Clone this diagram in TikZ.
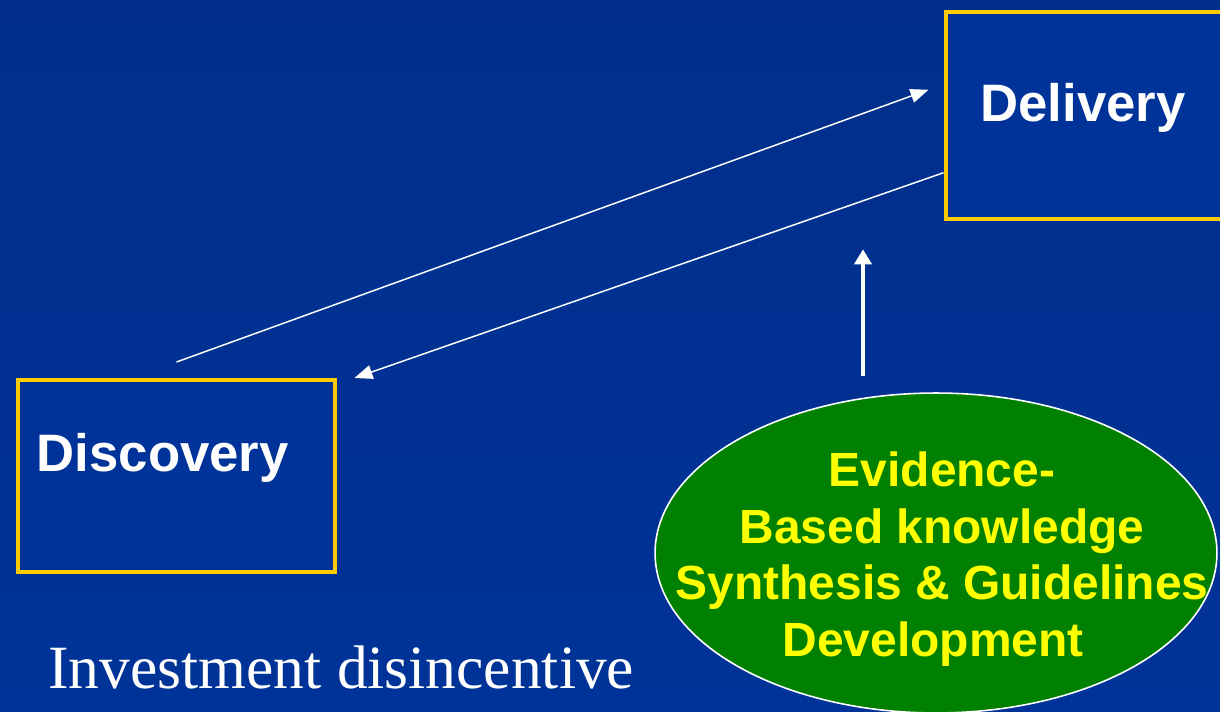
\documentclass[tikz,border=0pt]{standalone}
\usepackage{fontspec}
\setmainfont{Liberation Sans}
\newfontfamily\serifface{Liberation Serif}
\usetikzlibrary{shapes.geometric,arrows.meta,positioning}
\definecolor{slideblue}{RGB}{0,51,153}
\definecolor{slidetop}{RGB}{0,46,138}
\definecolor{boxgold}{RGB}{255,204,0}
\definecolor{ebkgreen}{RGB}{0,128,0}
\definecolor{ebkyellow}{RGB}{255,255,0}
\tikzset{
  stagebox/.style={draw=boxgold, line width=2.3pt, fill=slideblue, inner sep=0pt},
  stagelabel/.style={text=white, font=\fontsize{30}{36}\selectfont\bfseries, inner sep=0pt},
  ebkshape/.style={ellipse, draw=white, line width=0.9pt, fill=ebkgreen, inner sep=0pt},
  ebktext/.style={text=ebkyellow, align=center, inner sep=0pt, font=\fontsize{27.3}{32.2}\selectfont\bfseries},
  thinarrow/.style={draw=white, line width=0.85pt, -{Triangle[length=0.36cm,width=0.28cm]}},
  thickarrow/.style={draw=white, line width=2.2pt, -{Triangle[length=0.3cm,width=0.34cm]}}
}
\begin{document}
\begin{tikzpicture}[x=0.02cm,y=-0.02cm]
        \shade[top color=slidetop,bottom color=slideblue] (0,0) rectangle (1220,712);
        \useasboundingbox (0,0) rectangle (1220,712);
        \clip (0,0) rectangle (1220,712);
        % the two stages
        \node[stagebox, minimum width=7cm, minimum height=4.15cm, anchor=north west] (delivery) at (943.5,10) {};
        \node[stagelabel, anchor=base west] (deliverylabel) at ([xshift=0.73cm,yshift=-2.24cm]delivery.north west) {Delivery};
        \node[stagebox, minimum width=6.36cm, minimum height=3.84cm, anchor=north west] (discovery) at (15.5,378) {};
        \node[stagelabel, anchor=base west] (discoverylabel) at ([xshift=0.42cm,yshift=-1.88cm]discovery.north west) {Discovery};
        % synthesis ellipse
        \node[ebkshape, minimum width=11.24cm, minimum height=6.4cm] (ebk) at (936,553) {};
        \node[ebktext] (ebklabel) at ([xshift=0.12cm,yshift=-0.12cm]ebk.center) {Evidence-\\Based knowledge\\Synthesis \& Guidelines\\Development\hspace*{0.36cm}};
        % connectors
        \draw[thinarrow] ([yshift=0.32cm]discovery.north) -- ([xshift=-0.3cm,yshift=0.52cm]delivery.west);
        \draw[thinarrow] ([yshift=-1.14cm]delivery.west) -- ([xshift=0.34cm]discovery.north east);
        \draw[thickarrow] ([xshift=-1.46cm,yshift=0.32cm]ebk.north) -- ([xshift=-1.46cm,yshift=2.86cm]ebk.north);
        \node[anchor=base west, text=white, inner sep=0pt, font=\serifface\fontsize{35}{42}\selectfont] (disincentive) at (48,688) {Investment disincentive};
\end{tikzpicture}
\end{document}
